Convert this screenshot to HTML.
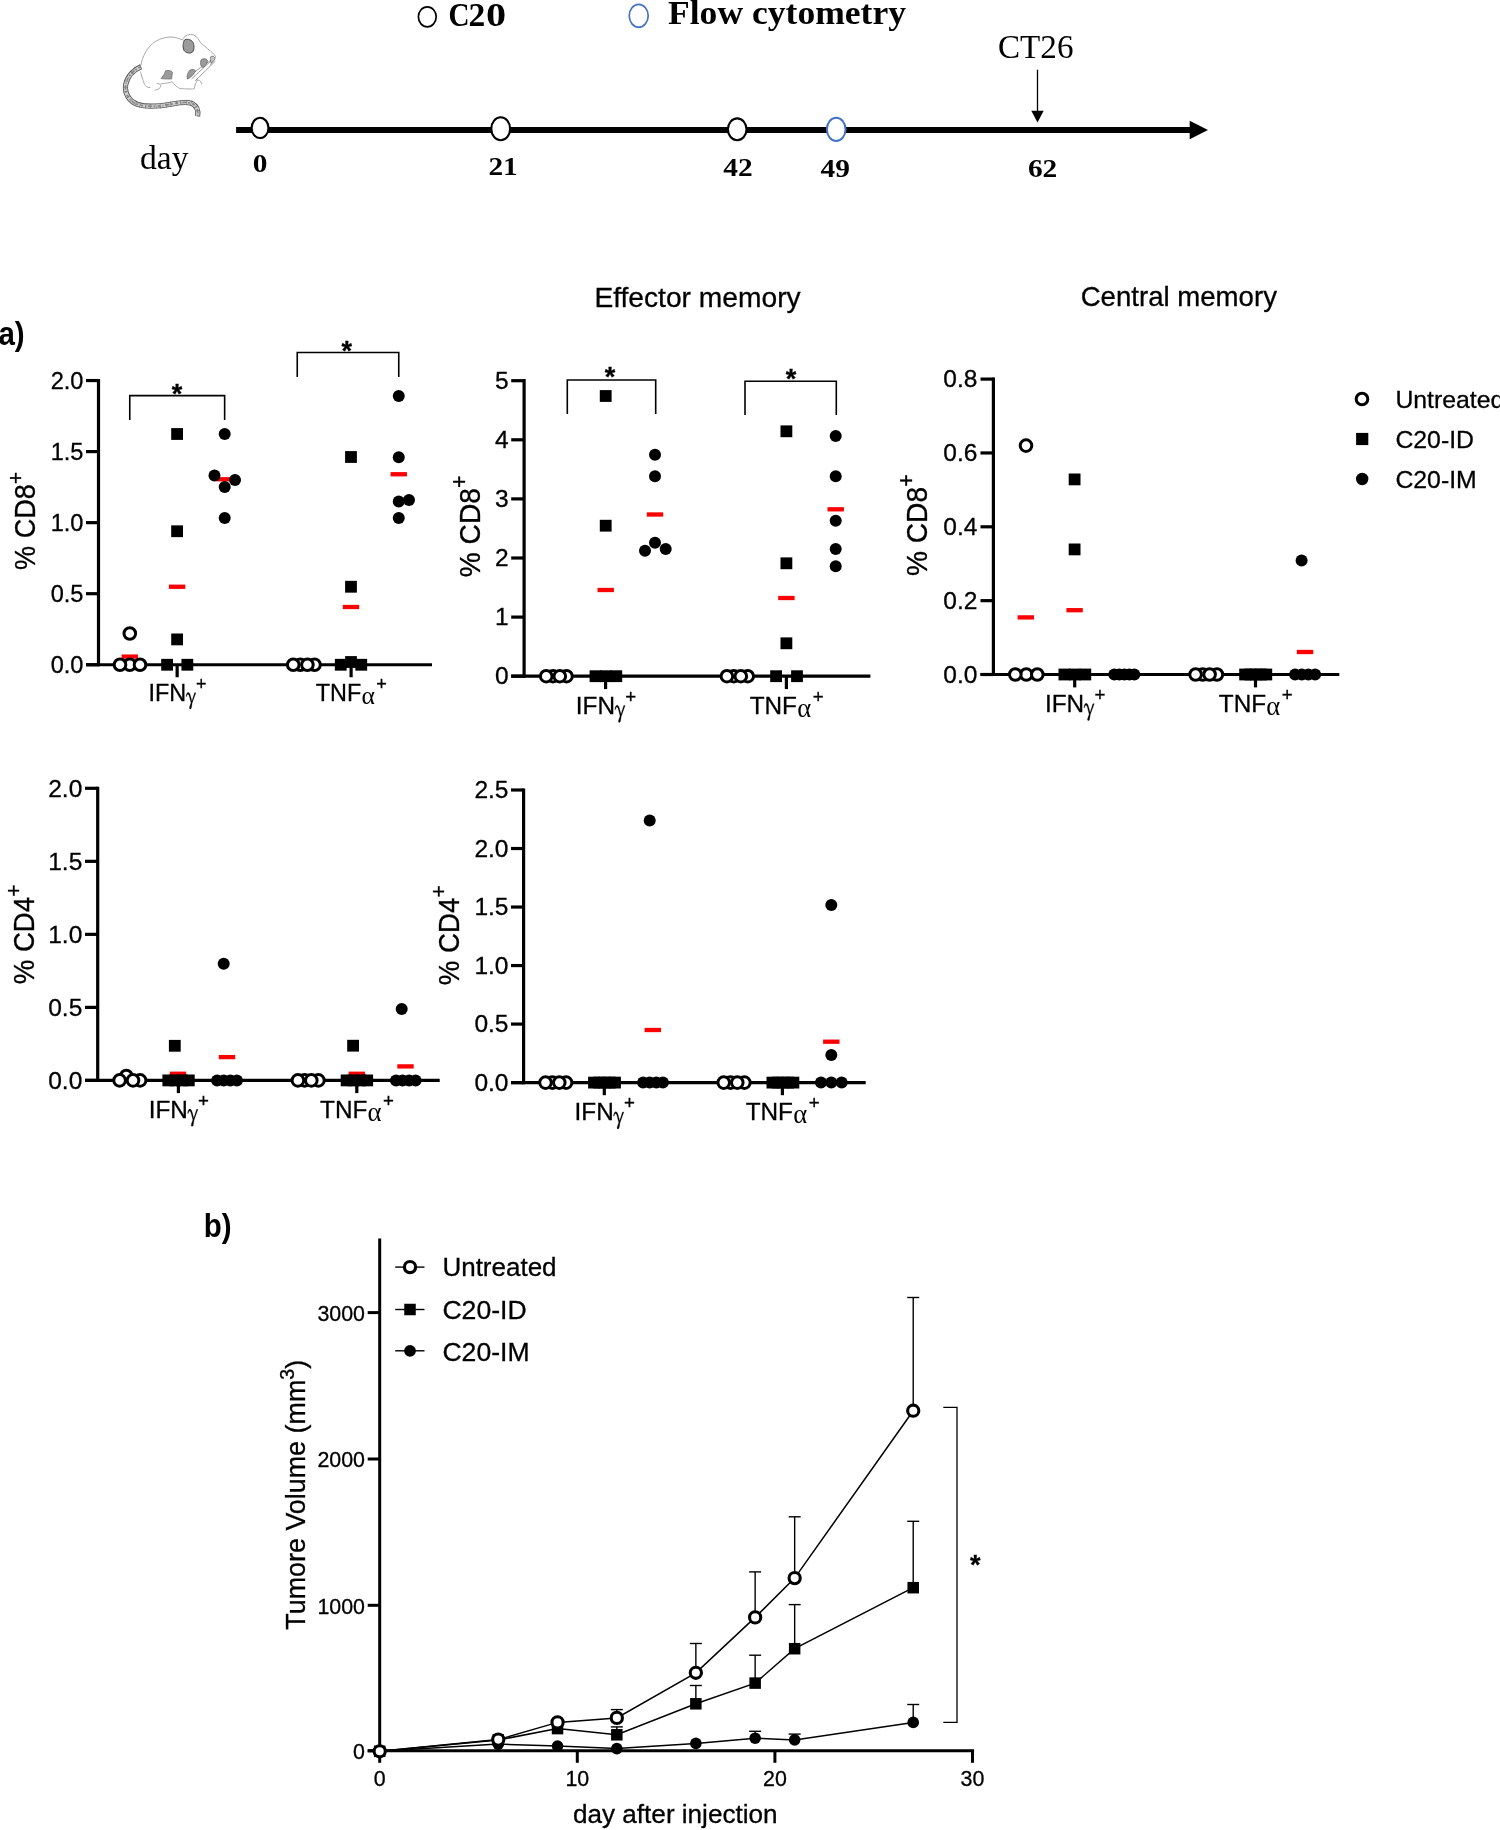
<!DOCTYPE html>
<html><head><meta charset="utf-8"><title>Figure</title>
<style>html,body{margin:0;padding:0;background:#fff}svg{display:block;will-change:transform}text{fill:#000}.b text{stroke:#000;stroke-width:0.3px}</style>
</head><body>
<svg width="1500" height="1830" viewBox="0 0 1500 1830">
<rect width="1500" height="1830" fill="#fff"/>
<g id="timeline">
<ellipse cx="427.3" cy="16.8" rx="8.9" ry="10" fill="#fff" stroke="#000" stroke-width="1.7"/>
<g transform="translate(448.4 26) scale(0.87 1)">
<text x="0" y="0" font-size="33.5" text-anchor="start" font-family='"Liberation Serif", serif' font-weight="bold" >C</text>
</g>
<text x="468.4" y="26" font-size="33.5" text-anchor="start" font-family='"Liberation Serif", serif' font-weight="bold" >2</text>
<g transform="translate(486 26) scale(1.2 1)">
<text x="0" y="0" font-size="33.5" text-anchor="start" font-family='"Liberation Serif", serif' font-weight="bold" >0</text>
</g>
<ellipse cx="638.7" cy="15.8" rx="9.5" ry="11.4" fill="#fff" stroke="#4472c4" stroke-width="1.7"/>
<text x="668" y="24.4" font-size="34" text-anchor="start" font-family='"Liberation Serif", serif' font-weight="bold" textLength="238" lengthAdjust="spacingAndGlyphs">Flow cytometry</text>
<line x1="236.1" y1="129.9" x2="1192" y2="129.9" stroke="#000" stroke-width="6" stroke-linecap="butt"/>
<path d="M1189.7 120.7 L1208 130 L1189.7 139.3 Z" fill="#000"/>
<ellipse cx="260.05" cy="127.9" rx="8.4" ry="10.15" fill="#fff" stroke="#000" stroke-width="2.1"/>
<ellipse cx="500.7" cy="128.8" rx="9.4" ry="11.5" fill="#fff" stroke="#000" stroke-width="2.1"/>
<ellipse cx="737.2" cy="129.3" rx="9.3" ry="10.9" fill="#fff" stroke="#000" stroke-width="2.1"/>
<ellipse cx="836.2" cy="129.4" rx="9.3" ry="11.6" fill="#fff" stroke="#4472c4" stroke-width="2"/>
<text x="140" y="168.6" font-size="34.5" text-anchor="start" font-family='"Liberation Serif", serif' font-weight="normal" textLength="48.5" lengthAdjust="spacingAndGlyphs">day</text>
<g transform="translate(260.1 171.6) scale(1.13 1)">
<text x="0" y="0" font-size="26" text-anchor="middle" font-family='"Liberation Serif", serif' font-weight="bold" >0</text>
</g>
<g transform="translate(503.1 175) scale(1.13 1)">
<text x="0" y="0" font-size="26" text-anchor="middle" font-family='"Liberation Serif", serif' font-weight="bold" >21</text>
</g>
<g transform="translate(737.9 176.4) scale(1.13 1)">
<text x="0" y="0" font-size="26" text-anchor="middle" font-family='"Liberation Serif", serif' font-weight="bold" >42</text>
</g>
<g transform="translate(835.2 177) scale(1.13 1)">
<text x="0" y="0" font-size="26" text-anchor="middle" font-family='"Liberation Serif", serif' font-weight="bold" >49</text>
</g>
<g transform="translate(1042.6 176.7) scale(1.13 1)">
<text x="0" y="0" font-size="26" text-anchor="middle" font-family='"Liberation Serif", serif' font-weight="bold" >62</text>
</g>
<text x="998" y="58.3" font-size="34" text-anchor="start" font-family='"Liberation Serif", serif' font-weight="normal" textLength="75.5" lengthAdjust="spacingAndGlyphs">CT26</text>
<line x1="1037.5" y1="69.7" x2="1037.5" y2="112" stroke="#000" stroke-width="1.3" stroke-linecap="butt"/>
<path d="M1031.3 110.8 L1043.7 110.8 L1037.5 122.5 Z" fill="#000"/>
<g id="mouse" fill="none" stroke-linecap="round" stroke-linejoin="round">
<path d="M141 65 C142 58 146 50 151 45 C156 40 163 37.500 170 37 C175 37 179 38.500 182.500 40 C183.500 37 186 35 190 34.500 C195 34 198 38 200 42 C203 45 206 47 209 50 C212 52 214 54 215.500 56.500 C214.500 59 213 61.500 210.500 64.500" stroke="#9c9c9c" stroke-width="0.9" stroke-dasharray="5 0.9 2.2 0.7"/>
<path d="M196.500 80 C199 79.500 201.500 81 201.500 84 M197.500 80.500 C195 83 195 86.500 194 89 C190 89 185 89 180 88.500 C176 87 174 84 172 81.500 M171 82.500 C167 83 163 83.500 160.500 84 M157 83.500 C159.500 83.500 161.500 85 160.500 87 C159.500 89 157 90 155 90 M150 87.500 C147 87.500 145 86 144 83 C143 80 141.500 76 140.500 72" stroke="#9c9c9c" stroke-width="0.9" stroke-dasharray="3.500 1 1.500 0.8"/>
<path d="M192 78.500 L213.500 58.500 M195.500 80.500 L215 61.500 M189 76 L211 60" stroke="#707070" stroke-width="0.7" stroke-dasharray="4 0.8"/>
<path d="M184.500 40 C187 38.500 191 39.500 192.800 42 C194.500 45 194.500 49.500 192.500 52 C190 54 186 53 184 50.500 C182.500 47 183 42.500 184.500 40 Z" fill="#9b9b9b" stroke="#3c3c3c" stroke-width="1" stroke-dasharray="1.300 0.9"/>
<path d="M201 60 C203 58 206.500 58.500 207.500 60.500 C207 63.500 205.500 66 203 67.500 C201 67 200 64 201 60 Z" fill="#9b9b9b" stroke="#555" stroke-width="0.7" stroke-dasharray="1.200 0.8"/>
<path d="M190 70 C192 69 195 69.500 195.500 71 C194 74 191 77.500 187.500 79 C186.500 77 187.500 73 190 70 Z" fill="#9b9b9b" stroke="#555" stroke-width="0.7" stroke-dasharray="1.200 0.8"/>
<path d="M165.500 71 C168 70 171.500 70.500 172.500 72.500 C172 75 172 77.500 171.500 79 C168 79 164 79 161 78.500 C163 76 164.500 74 165.500 71 Z" fill="#9b9b9b" stroke="#666" stroke-width="0.7" stroke-dasharray="1.200 0.8"/>
<path d="M210.500 57 C212 55.500 214 56 215 58 C214.500 60.500 212.500 62.500 211 63 C210.500 61 210.500 59 210.500 57 Z" fill="#c4c4c4" stroke="#555" stroke-width="0.7" stroke-dasharray="1.200 0.8"/>
<path d="M141 66.800 C134 69.500 127.500 76 125.600 85 C124.500 94 129.500 101.500 138 104.600 C148 107.600 160 106.200 172 104 C180 102.500 187 101.500 192 103.500 C197 106 198.500 111 197.600 116.300" stroke="#555" stroke-width="5.200" stroke-linecap="butt"/>
<path d="M141 66.800 C134 69.500 127.500 76 125.600 85 C124.500 94 129.500 101.500 138 104.600 C148 107.600 160 106.200 172 104 C180 102.500 187 101.500 192 103.500 C197 106 198.500 111 197.600 116.300" stroke="#d2d2d2" stroke-width="3.500" stroke-linecap="butt"/>
<path d="M141 66.800 C134 69.500 127.500 76 125.600 85 C124.500 94 129.500 101.500 138 104.600 C148 107.600 160 106.200 172 104 C180 102.500 187 101.500 192 103.500 C197 106 198.500 111 197.600 116.300" stroke="#8a8a8a" stroke-width="1.800" stroke-dasharray="3 1.800 1.200 1.500 4.500 1.200 2 2.200" stroke-linecap="butt"/>
<path d="M141 66.800 C134 69.500 127.500 76 125.600 85 C124.500 94 129.500 101.500 138 104.600 C148 107.600 160 106.200 172 104 C180 102.500 187 101.500 192 103.500 C197 106 198.500 111 197.600 116.300" stroke="#666" stroke-width="5.200" stroke-dasharray="0.700 5.300 0.600 3.700" stroke-linecap="butt" opacity="0.7"/>
</g>
</g>
<g transform="translate(-1.6 345.2) scale(0.9 1)">
<text x="0" y="0" font-size="32.8" text-anchor="start" font-family='"Liberation Sans", sans-serif' font-weight="bold" >a)</text>
</g>
<g transform="translate(203.7 1236.8) scale(0.9 1)">
<text x="0" y="0" font-size="32.8" text-anchor="start" font-family='"Liberation Sans", sans-serif' font-weight="bold" >b)</text>
</g>
<g id="c1" class="b">
<line x1="98.5" y1="378.95" x2="98.5" y2="666.35" stroke="#000" stroke-width="3.2" stroke-linecap="butt"/>
<line x1="86" y1="664.75" x2="432" y2="664.75" stroke="#000" stroke-width="3.2" stroke-linecap="butt"/>
<line x1="86" y1="380.55" x2="98.5" y2="380.55" stroke="#000" stroke-width="3.2" stroke-linecap="butt"/>
<text x="83.5" y="388.5" font-size="23.6" text-anchor="end" font-family='"Liberation Sans", sans-serif' font-weight="normal" >2.0</text>
<line x1="86" y1="451.6" x2="98.5" y2="451.6" stroke="#000" stroke-width="3.2" stroke-linecap="butt"/>
<text x="83.5" y="459.55" font-size="23.6" text-anchor="end" font-family='"Liberation Sans", sans-serif' font-weight="normal" >1.5</text>
<line x1="86" y1="522.65" x2="98.5" y2="522.65" stroke="#000" stroke-width="3.2" stroke-linecap="butt"/>
<text x="83.5" y="530.6" font-size="23.6" text-anchor="end" font-family='"Liberation Sans", sans-serif' font-weight="normal" >1.0</text>
<line x1="86" y1="593.7" x2="98.5" y2="593.7" stroke="#000" stroke-width="3.2" stroke-linecap="butt"/>
<text x="83.5" y="601.65" font-size="23.6" text-anchor="end" font-family='"Liberation Sans", sans-serif' font-weight="normal" >0.5</text>
<line x1="86" y1="664.75" x2="98.5" y2="664.75" stroke="#000" stroke-width="3.2" stroke-linecap="butt"/>
<text x="83.5" y="672.7" font-size="23.6" text-anchor="end" font-family='"Liberation Sans", sans-serif' font-weight="normal" >0.0</text>
<line x1="177.15" y1="664.75" x2="177.15" y2="677.25" stroke="#000" stroke-width="3.2" stroke-linecap="butt"/>
<line x1="351.1" y1="664.75" x2="351.1" y2="677.25" stroke="#000" stroke-width="3.2" stroke-linecap="butt"/>
<g transform="translate(35.1 527) scale(1.075 1) rotate(-90)">
<text x="-42.91" y="0" font-size="27.1" text-anchor="start" font-family='"Liberation Sans", sans-serif' font-weight="normal" >% CD8</text>
<text x="43.11" y="-11.65" font-size="20.6" text-anchor="start" font-family='"Liberation Sans", sans-serif' font-weight="normal" >+</text>
</g>
<text x="148.5" y="700.7" font-size="23.4" text-anchor="start" font-family='"Liberation Sans", sans-serif' font-weight="normal" >IFN</text>
<path transform="translate(186 701) scale(1)" d="M0,-4.4 C0.2,-7 1,-8.6 2.2,-8.6 C3.6,-8.6 4.2,-6.5 4.8,-4 L5.9,0.2 L8.6,-8.3 L9.9,-8.3 L6.1,2.2 C5.9,4 5.6,6 5.2,7.4 C4.8,8.2 3.4,8.2 3.4,7 C3.6,5.4 4.4,3.6 5,1.8 L3.6,-3.6 C3,-5.8 2.6,-6.8 1.9,-6.8 C1.2,-6.8 0.8,-5.6 0.6,-4.4 Z" fill="#000" stroke="#000" stroke-width="0.25"/>
<text x="201.3" y="690.1" font-size="18" text-anchor="middle" font-family='"Liberation Sans", sans-serif' font-weight="normal" >+</text>
<text x="315.8" y="700.7" font-size="23.4" text-anchor="start" font-family='"Liberation Sans", sans-serif' font-weight="normal" >TNF</text>
<text x="361.4" y="703.7" font-size="25.6" text-anchor="start" font-family='"Liberation Serif", serif' font-weight="normal" style="stroke-width:0">&#945;</text>
<text x="381.6" y="690.1" font-size="18" text-anchor="middle" font-family='"Liberation Sans", sans-serif' font-weight="normal" >+</text>
<rect x="121.6" y="654.45" width="16.4" height="4.3" fill="#fe0000"/>
<circle cx="129.8" cy="633.5" r="5.8" fill="#fff" stroke="#000" stroke-width="3"/>
<circle cx="129.8" cy="664.75" r="5.8" fill="#fff" stroke="#000" stroke-width="3"/>
<circle cx="120" cy="664.75" r="5.8" fill="#fff" stroke="#000" stroke-width="3"/>
<circle cx="140" cy="664.75" r="5.8" fill="#fff" stroke="#000" stroke-width="3"/>
<rect x="168.9" y="584.6" width="16.4" height="4.3" fill="#fe0000"/>
<rect x="171.2" y="428.1" width="11.8" height="11.8" fill="#000"/>
<rect x="171.2" y="525.35" width="11.8" height="11.8" fill="#000"/>
<rect x="171.2" y="633.5" width="11.8" height="11.8" fill="#000"/>
<rect x="161.2" y="658.85" width="11.8" height="11.8" fill="#000"/>
<rect x="181.45" y="658.85" width="11.8" height="11.8" fill="#000"/>
<rect x="216.5" y="477.1" width="16.4" height="4.3" fill="#fe0000"/>
<circle cx="224.7" cy="434" r="6" fill="#000"/>
<circle cx="214.5" cy="475.5" r="6" fill="#000"/>
<circle cx="235" cy="480" r="6" fill="#000"/>
<circle cx="224.7" cy="487" r="6" fill="#000"/>
<circle cx="224.7" cy="518" r="6" fill="#000"/>
<path d="M129.76 420V395.6H224.64V420" fill="none" stroke="#000" stroke-width="1.6"/>
<text x="177" y="402.92" font-size="27" text-anchor="middle" font-family='"Liberation Sans", sans-serif' font-weight="bold" >*</text>
<circle cx="314.5" cy="664.75" r="5.8" fill="#fff" stroke="#000" stroke-width="3"/>
<circle cx="300.3" cy="664.75" r="5.8" fill="#fff" stroke="#000" stroke-width="3"/>
<circle cx="307.4" cy="664.75" r="5.8" fill="#fff" stroke="#000" stroke-width="3"/>
<circle cx="293.25" cy="664.75" r="5.8" fill="#fff" stroke="#000" stroke-width="3"/>
<rect x="342.8" y="604.85" width="16.4" height="4.3" fill="#fe0000"/>
<rect x="345.1" y="451.1" width="11.8" height="11.8" fill="#000"/>
<rect x="345.1" y="580.85" width="11.8" height="11.8" fill="#000"/>
<rect x="334.85" y="658.85" width="11.8" height="11.8" fill="#000"/>
<rect x="355.35" y="658.85" width="11.8" height="11.8" fill="#000"/>
<rect x="345.1" y="656.1" width="11.8" height="11.8" fill="#000"/>
<rect x="390.55" y="472.1" width="16.4" height="4.3" fill="#fe0000"/>
<circle cx="398.75" cy="396" r="6" fill="#000"/>
<circle cx="398.75" cy="457.25" r="6" fill="#000"/>
<circle cx="398.75" cy="501.5" r="6" fill="#000"/>
<circle cx="409" cy="500" r="6" fill="#000"/>
<circle cx="398.75" cy="518" r="6" fill="#000"/>
<path d="M297.25 377V352.5H398.75V377" fill="none" stroke="#000" stroke-width="1.6"/>
<text x="346.75" y="359.72" font-size="27" text-anchor="middle" font-family='"Liberation Sans", sans-serif' font-weight="bold" >*</text>
</g>
<g id="c2" class="b">
<line x1="524.1" y1="379.1" x2="524.1" y2="677.8" stroke="#000" stroke-width="3.2" stroke-linecap="butt"/>
<line x1="511.2" y1="676.2" x2="870.4" y2="676.2" stroke="#000" stroke-width="3.2" stroke-linecap="butt"/>
<line x1="511.2" y1="380.7" x2="524.1" y2="380.7" stroke="#000" stroke-width="3.2" stroke-linecap="butt"/>
<text x="508.7" y="388.99" font-size="24.54" text-anchor="end" font-family='"Liberation Sans", sans-serif' font-weight="normal" >5</text>
<line x1="511.2" y1="439.8" x2="524.1" y2="439.8" stroke="#000" stroke-width="3.2" stroke-linecap="butt"/>
<text x="508.7" y="448.09" font-size="24.54" text-anchor="end" font-family='"Liberation Sans", sans-serif' font-weight="normal" >4</text>
<line x1="511.2" y1="498.9" x2="524.1" y2="498.9" stroke="#000" stroke-width="3.2" stroke-linecap="butt"/>
<text x="508.7" y="507.19" font-size="24.54" text-anchor="end" font-family='"Liberation Sans", sans-serif' font-weight="normal" >3</text>
<line x1="511.2" y1="558" x2="524.1" y2="558" stroke="#000" stroke-width="3.2" stroke-linecap="butt"/>
<text x="508.7" y="566.29" font-size="24.54" text-anchor="end" font-family='"Liberation Sans", sans-serif' font-weight="normal" >2</text>
<line x1="511.2" y1="617.1" x2="524.1" y2="617.1" stroke="#000" stroke-width="3.2" stroke-linecap="butt"/>
<text x="508.7" y="625.39" font-size="24.54" text-anchor="end" font-family='"Liberation Sans", sans-serif' font-weight="normal" >1</text>
<line x1="511.2" y1="676.2" x2="524.1" y2="676.2" stroke="#000" stroke-width="3.2" stroke-linecap="butt"/>
<text x="508.7" y="684.49" font-size="24.54" text-anchor="end" font-family='"Liberation Sans", sans-serif' font-weight="normal" >0</text>
<line x1="605.6" y1="676.2" x2="605.6" y2="689.1" stroke="#000" stroke-width="3.2" stroke-linecap="butt"/>
<line x1="786.4" y1="676.2" x2="786.4" y2="689.1" stroke="#000" stroke-width="3.2" stroke-linecap="butt"/>
<g transform="translate(480.3 532.7) scale(1.075 1) rotate(-90)">
<text x="-44.63" y="0" font-size="28.18" text-anchor="start" font-family='"Liberation Sans", sans-serif' font-weight="normal" >% CD8</text>
<text x="44.83" y="-12.12" font-size="21.42" text-anchor="start" font-family='"Liberation Sans", sans-serif' font-weight="normal" >+</text>
</g>
<text x="575.86" y="713.8" font-size="24.34" text-anchor="start" font-family='"Liberation Sans", sans-serif' font-weight="normal" >IFN</text>
<path transform="translate(614.86 714.1) scale(1.04)" d="M0,-4.4 C0.2,-7 1,-8.6 2.2,-8.6 C3.6,-8.6 4.2,-6.5 4.8,-4 L5.9,0.2 L8.6,-8.3 L9.9,-8.3 L6.1,2.2 C5.9,4 5.6,6 5.2,7.4 C4.8,8.2 3.4,8.2 3.4,7 C3.6,5.4 4.4,3.6 5,1.8 L3.6,-3.6 C3,-5.8 2.6,-6.8 1.9,-6.8 C1.2,-6.8 0.8,-5.6 0.6,-4.4 Z" fill="#000" stroke="#000" stroke-width="0.25"/>
<text x="630.77" y="702.78" font-size="18.72" text-anchor="middle" font-family='"Liberation Sans", sans-serif' font-weight="normal" >+</text>
<text x="749.69" y="713.8" font-size="24.34" text-anchor="start" font-family='"Liberation Sans", sans-serif' font-weight="normal" >TNF</text>
<text x="797.14" y="716.92" font-size="26.62" text-anchor="start" font-family='"Liberation Serif", serif' font-weight="normal" style="stroke-width:0">&#945;</text>
<text x="818.12" y="702.78" font-size="18.72" text-anchor="middle" font-family='"Liberation Sans", sans-serif' font-weight="normal" >+</text>
<text x="697.5" y="307.4" font-size="28.2" text-anchor="middle" font-family='"Liberation Sans", sans-serif' font-weight="normal" >Effector memory</text>
<circle cx="566.5" cy="676.2" r="5.8" fill="#fff" stroke="#000" stroke-width="3"/>
<circle cx="553" cy="676.2" r="5.8" fill="#fff" stroke="#000" stroke-width="3"/>
<circle cx="559.8" cy="676.2" r="5.8" fill="#fff" stroke="#000" stroke-width="3"/>
<circle cx="546.2" cy="676.2" r="5.8" fill="#fff" stroke="#000" stroke-width="3"/>
<rect x="597.5" y="587.85" width="16.4" height="4.3" fill="#fe0000"/>
<rect x="599.8" y="390.1" width="11.8" height="11.8" fill="#000"/>
<rect x="599.8" y="519.8" width="11.8" height="11.8" fill="#000"/>
<rect x="589.6" y="670.3" width="11.8" height="11.8" fill="#000"/>
<rect x="600" y="670.3" width="11.8" height="11.8" fill="#000"/>
<rect x="610.4" y="670.3" width="11.8" height="11.8" fill="#000"/>
<rect x="646.8" y="512.35" width="16.4" height="4.3" fill="#fe0000"/>
<circle cx="655" cy="454.7" r="6" fill="#000"/>
<circle cx="655" cy="476.3" r="6" fill="#000"/>
<circle cx="655" cy="542.7" r="6" fill="#000"/>
<circle cx="645" cy="550.7" r="6" fill="#000"/>
<circle cx="665.7" cy="549" r="6" fill="#000"/>
<path d="M567.3 414V380H655.7V414" fill="none" stroke="#000" stroke-width="1.6"/>
<text x="610" y="385.72" font-size="27" text-anchor="middle" font-family='"Liberation Sans", sans-serif' font-weight="bold" >*</text>
<circle cx="747.7" cy="676.2" r="5.8" fill="#fff" stroke="#000" stroke-width="3"/>
<circle cx="733.8" cy="676.2" r="5.8" fill="#fff" stroke="#000" stroke-width="3"/>
<circle cx="740.8" cy="676.2" r="5.8" fill="#fff" stroke="#000" stroke-width="3"/>
<circle cx="726.9" cy="676.2" r="5.8" fill="#fff" stroke="#000" stroke-width="3"/>
<rect x="778.2" y="595.85" width="16.4" height="4.3" fill="#fe0000"/>
<rect x="780.5" y="425.4" width="11.8" height="11.8" fill="#000"/>
<rect x="780.5" y="557.4" width="11.8" height="11.8" fill="#000"/>
<rect x="780.5" y="637.4" width="11.8" height="11.8" fill="#000"/>
<rect x="770.2" y="670.3" width="11.8" height="11.8" fill="#000"/>
<rect x="791.1" y="670.3" width="11.8" height="11.8" fill="#000"/>
<rect x="827.5" y="507.15" width="16.4" height="4.3" fill="#fe0000"/>
<circle cx="835.7" cy="436" r="6" fill="#000"/>
<circle cx="835.7" cy="476.3" r="6" fill="#000"/>
<circle cx="835.7" cy="520.7" r="6" fill="#000"/>
<circle cx="835.7" cy="549" r="6" fill="#000"/>
<circle cx="835.7" cy="566.3" r="6" fill="#000"/>
<path d="M745 415V381.3H836.3V415" fill="none" stroke="#000" stroke-width="1.6"/>
<text x="791" y="387.72" font-size="27" text-anchor="middle" font-family='"Liberation Sans", sans-serif' font-weight="bold" >*</text>
</g>
<g id="c3" class="b">
<line x1="993.4" y1="377.5" x2="993.4" y2="676.1" stroke="#000" stroke-width="3.2" stroke-linecap="butt"/>
<line x1="980.5" y1="674.5" x2="1339.3" y2="674.5" stroke="#000" stroke-width="3.2" stroke-linecap="butt"/>
<line x1="980.5" y1="379.1" x2="993.4" y2="379.1" stroke="#000" stroke-width="3.2" stroke-linecap="butt"/>
<text x="977.4" y="387.39" font-size="24.54" text-anchor="end" font-family='"Liberation Sans", sans-serif' font-weight="normal" >0.8</text>
<line x1="980.5" y1="452.95" x2="993.4" y2="452.95" stroke="#000" stroke-width="3.2" stroke-linecap="butt"/>
<text x="977.4" y="461.24" font-size="24.54" text-anchor="end" font-family='"Liberation Sans", sans-serif' font-weight="normal" >0.6</text>
<line x1="980.5" y1="526.8" x2="993.4" y2="526.8" stroke="#000" stroke-width="3.2" stroke-linecap="butt"/>
<text x="977.4" y="535.09" font-size="24.54" text-anchor="end" font-family='"Liberation Sans", sans-serif' font-weight="normal" >0.4</text>
<line x1="980.5" y1="600.65" x2="993.4" y2="600.65" stroke="#000" stroke-width="3.2" stroke-linecap="butt"/>
<text x="977.4" y="608.94" font-size="24.54" text-anchor="end" font-family='"Liberation Sans", sans-serif' font-weight="normal" >0.2</text>
<line x1="980.5" y1="674.5" x2="993.4" y2="674.5" stroke="#000" stroke-width="3.2" stroke-linecap="butt"/>
<text x="977.4" y="682.79" font-size="24.54" text-anchor="end" font-family='"Liberation Sans", sans-serif' font-weight="normal" >0.0</text>
<line x1="1074.7" y1="674.5" x2="1074.7" y2="687.4" stroke="#000" stroke-width="3.2" stroke-linecap="butt"/>
<line x1="1255.5" y1="674.5" x2="1255.5" y2="687.4" stroke="#000" stroke-width="3.2" stroke-linecap="butt"/>
<g transform="translate(927.3 531.5) scale(1.075 1) rotate(-90)">
<text x="-44.63" y="0" font-size="28.18" text-anchor="start" font-family='"Liberation Sans", sans-serif' font-weight="normal" >% CD8</text>
<text x="44.83" y="-12.12" font-size="21.42" text-anchor="start" font-family='"Liberation Sans", sans-serif' font-weight="normal" >+</text>
</g>
<text x="1044.96" y="712" font-size="24.34" text-anchor="start" font-family='"Liberation Sans", sans-serif' font-weight="normal" >IFN</text>
<path transform="translate(1083.96 712.3) scale(1.04)" d="M0,-4.4 C0.2,-7 1,-8.6 2.2,-8.6 C3.6,-8.6 4.2,-6.5 4.8,-4 L5.9,0.2 L8.6,-8.3 L9.9,-8.3 L6.1,2.2 C5.9,4 5.6,6 5.2,7.4 C4.8,8.2 3.4,8.2 3.4,7 C3.6,5.4 4.4,3.6 5,1.8 L3.6,-3.6 C3,-5.8 2.6,-6.8 1.9,-6.8 C1.2,-6.8 0.8,-5.6 0.6,-4.4 Z" fill="#000" stroke="#000" stroke-width="0.25"/>
<text x="1099.87" y="700.98" font-size="18.72" text-anchor="middle" font-family='"Liberation Sans", sans-serif' font-weight="normal" >+</text>
<text x="1218.79" y="712" font-size="24.34" text-anchor="start" font-family='"Liberation Sans", sans-serif' font-weight="normal" >TNF</text>
<text x="1266.24" y="715.12" font-size="26.62" text-anchor="start" font-family='"Liberation Serif", serif' font-weight="normal" style="stroke-width:0">&#945;</text>
<text x="1287.22" y="700.98" font-size="18.72" text-anchor="middle" font-family='"Liberation Sans", sans-serif' font-weight="normal" >+</text>
<text x="1178.8" y="305.7" font-size="27.6" text-anchor="middle" font-family='"Liberation Sans", sans-serif' font-weight="normal" >Central memory</text>
<rect x="1017.6" y="615.25" width="16.4" height="4.3" fill="#fe0000"/>
<circle cx="1026" cy="445.6" r="5.8" fill="#fff" stroke="#000" stroke-width="3"/>
<circle cx="1026.3" cy="674.5" r="5.8" fill="#fff" stroke="#000" stroke-width="3"/>
<circle cx="1015.3" cy="674.5" r="5.8" fill="#fff" stroke="#000" stroke-width="3"/>
<circle cx="1037.3" cy="674.5" r="5.8" fill="#fff" stroke="#000" stroke-width="3"/>
<rect x="1066.4" y="608.05" width="16.4" height="4.3" fill="#fe0000"/>
<rect x="1068.7" y="473.5" width="11.8" height="11.8" fill="#000"/>
<rect x="1068.7" y="543.5" width="11.8" height="11.8" fill="#000"/>
<rect x="1058.5" y="668.6" width="11.8" height="11.8" fill="#000"/>
<rect x="1068.95" y="668.6" width="11.8" height="11.8" fill="#000"/>
<rect x="1079.4" y="668.6" width="11.8" height="11.8" fill="#000"/>
<circle cx="1114.3" cy="674.5" r="6" fill="#000"/>
<circle cx="1119.3" cy="674.5" r="6" fill="#000"/>
<circle cx="1124.3" cy="674.5" r="6" fill="#000"/>
<circle cx="1129.3" cy="674.5" r="6" fill="#000"/>
<circle cx="1134.3" cy="674.5" r="6" fill="#000"/>
<circle cx="1216.9" cy="674.5" r="5.8" fill="#fff" stroke="#000" stroke-width="3"/>
<circle cx="1202.7" cy="674.5" r="5.8" fill="#fff" stroke="#000" stroke-width="3"/>
<circle cx="1209.6" cy="674.5" r="5.8" fill="#fff" stroke="#000" stroke-width="3"/>
<circle cx="1195.6" cy="674.5" r="5.8" fill="#fff" stroke="#000" stroke-width="3"/>
<rect x="1239.2" y="668.6" width="11.8" height="11.8" fill="#000"/>
<rect x="1244.5" y="668.6" width="11.8" height="11.8" fill="#000"/>
<rect x="1249.8" y="668.6" width="11.8" height="11.8" fill="#000"/>
<rect x="1255.1" y="668.6" width="11.8" height="11.8" fill="#000"/>
<rect x="1260.4" y="668.6" width="11.8" height="11.8" fill="#000"/>
<rect x="1296.8" y="649.85" width="16.4" height="4.3" fill="#fe0000"/>
<circle cx="1301.6" cy="560.4" r="6" fill="#000"/>
<circle cx="1295.1" cy="674.5" r="6" fill="#000"/>
<circle cx="1301.8" cy="674.5" r="6" fill="#000"/>
<circle cx="1308.4" cy="674.5" r="6" fill="#000"/>
<circle cx="1315.1" cy="674.5" r="6" fill="#000"/>
<circle cx="1362" cy="399" r="5.8" fill="#fff" stroke="#000" stroke-width="3"/>
<rect x="1356.1" y="432.9" width="12.2" height="12.2" fill="#000"/>
<circle cx="1362.2" cy="479" r="6.2" fill="#000"/>
<text x="1395.4" y="408" font-size="24.8" text-anchor="start" font-family='"Liberation Sans", sans-serif' font-weight="normal" >Untreated</text>
<text x="1395.4" y="448" font-size="24.8" text-anchor="start" font-family='"Liberation Sans", sans-serif' font-weight="normal" >C20-ID</text>
<text x="1395.4" y="488" font-size="24.8" text-anchor="start" font-family='"Liberation Sans", sans-serif' font-weight="normal" >C20-IM</text>
</g>
<g id="c4" class="b">
<line x1="97.7" y1="786.7" x2="97.7" y2="1082" stroke="#000" stroke-width="3.2" stroke-linecap="butt"/>
<line x1="85" y1="1080.4" x2="439.7" y2="1080.4" stroke="#000" stroke-width="3.2" stroke-linecap="butt"/>
<line x1="85" y1="788.3" x2="97.7" y2="788.3" stroke="#000" stroke-width="3.2" stroke-linecap="butt"/>
<text x="82.3" y="796.59" font-size="24.54" text-anchor="end" font-family='"Liberation Sans", sans-serif' font-weight="normal" >2.0</text>
<line x1="85" y1="861.33" x2="97.7" y2="861.33" stroke="#000" stroke-width="3.2" stroke-linecap="butt"/>
<text x="82.3" y="869.61" font-size="24.54" text-anchor="end" font-family='"Liberation Sans", sans-serif' font-weight="normal" >1.5</text>
<line x1="85" y1="934.35" x2="97.7" y2="934.35" stroke="#000" stroke-width="3.2" stroke-linecap="butt"/>
<text x="82.3" y="942.64" font-size="24.54" text-anchor="end" font-family='"Liberation Sans", sans-serif' font-weight="normal" >1.0</text>
<line x1="85" y1="1007.38" x2="97.7" y2="1007.38" stroke="#000" stroke-width="3.2" stroke-linecap="butt"/>
<text x="82.3" y="1015.66" font-size="24.54" text-anchor="end" font-family='"Liberation Sans", sans-serif' font-weight="normal" >0.5</text>
<line x1="85" y1="1080.4" x2="97.7" y2="1080.4" stroke="#000" stroke-width="3.2" stroke-linecap="butt"/>
<text x="82.3" y="1088.69" font-size="24.54" text-anchor="end" font-family='"Liberation Sans", sans-serif' font-weight="normal" >0.0</text>
<line x1="178.4" y1="1080.4" x2="178.4" y2="1093.1" stroke="#000" stroke-width="3.2" stroke-linecap="butt"/>
<line x1="356.8" y1="1080.4" x2="356.8" y2="1093.1" stroke="#000" stroke-width="3.2" stroke-linecap="butt"/>
<g transform="translate(33.8 940.6) scale(1.075 1) rotate(-90)">
<text x="-43.77" y="0" font-size="27.64" text-anchor="start" font-family='"Liberation Sans", sans-serif' font-weight="normal" >% CD4</text>
<text x="43.97" y="-11.89" font-size="21.01" text-anchor="start" font-family='"Liberation Sans", sans-serif' font-weight="normal" >+</text>
</g>
<text x="148.66" y="1117.7" font-size="24.34" text-anchor="start" font-family='"Liberation Sans", sans-serif' font-weight="normal" >IFN</text>
<path transform="translate(187.66 1118) scale(1.04)" d="M0,-4.4 C0.2,-7 1,-8.6 2.2,-8.6 C3.6,-8.6 4.2,-6.5 4.8,-4 L5.9,0.2 L8.6,-8.3 L9.9,-8.3 L6.1,2.2 C5.9,4 5.6,6 5.2,7.4 C4.8,8.2 3.4,8.2 3.4,7 C3.6,5.4 4.4,3.6 5,1.8 L3.6,-3.6 C3,-5.8 2.6,-6.8 1.9,-6.8 C1.2,-6.8 0.8,-5.6 0.6,-4.4 Z" fill="#000" stroke="#000" stroke-width="0.25"/>
<text x="203.57" y="1106.68" font-size="18.72" text-anchor="middle" font-family='"Liberation Sans", sans-serif' font-weight="normal" >+</text>
<text x="320.09" y="1117.7" font-size="24.34" text-anchor="start" font-family='"Liberation Sans", sans-serif' font-weight="normal" >TNF</text>
<text x="367.54" y="1120.82" font-size="26.62" text-anchor="start" font-family='"Liberation Serif", serif' font-weight="normal" style="stroke-width:0">&#945;</text>
<text x="388.52" y="1106.68" font-size="18.72" text-anchor="middle" font-family='"Liberation Sans", sans-serif' font-weight="normal" >+</text>
<circle cx="140.1" cy="1080.4" r="5.8" fill="#fff" stroke="#000" stroke-width="3"/>
<circle cx="126.3" cy="1076" r="5.8" fill="#fff" stroke="#000" stroke-width="3"/>
<circle cx="133" cy="1080.4" r="5.8" fill="#fff" stroke="#000" stroke-width="3"/>
<circle cx="119.6" cy="1080.4" r="5.8" fill="#fff" stroke="#000" stroke-width="3"/>
<rect x="169.8" y="1071.6" width="16.4" height="4.3" fill="#fe0000"/>
<rect x="168.9" y="1039.9" width="11.8" height="11.8" fill="#000"/>
<rect x="162.4" y="1074.5" width="11.8" height="11.8" fill="#000"/>
<rect x="169.2" y="1074.5" width="11.8" height="11.8" fill="#000"/>
<rect x="176.1" y="1074.5" width="11.8" height="11.8" fill="#000"/>
<rect x="182.9" y="1074.5" width="11.8" height="11.8" fill="#000"/>
<rect x="218.8" y="1054.95" width="16.4" height="4.3" fill="#fe0000"/>
<circle cx="223.7" cy="963.7" r="6" fill="#000"/>
<circle cx="217.1" cy="1080.4" r="6" fill="#000"/>
<circle cx="223.7" cy="1080.4" r="6" fill="#000"/>
<circle cx="230.3" cy="1080.4" r="6" fill="#000"/>
<circle cx="236.9" cy="1080.4" r="6" fill="#000"/>
<circle cx="318.4" cy="1080.4" r="5.8" fill="#fff" stroke="#000" stroke-width="3"/>
<circle cx="304.6" cy="1080.4" r="5.8" fill="#fff" stroke="#000" stroke-width="3"/>
<circle cx="311.3" cy="1080.4" r="5.8" fill="#fff" stroke="#000" stroke-width="3"/>
<circle cx="297.9" cy="1080.4" r="5.8" fill="#fff" stroke="#000" stroke-width="3"/>
<rect x="348.6" y="1071.6" width="16.4" height="4.3" fill="#fe0000"/>
<rect x="347.2" y="1039.8" width="11.8" height="11.8" fill="#000"/>
<rect x="340.7" y="1074.5" width="11.8" height="11.8" fill="#000"/>
<rect x="347.5" y="1074.5" width="11.8" height="11.8" fill="#000"/>
<rect x="354.4" y="1074.5" width="11.8" height="11.8" fill="#000"/>
<rect x="361.3" y="1074.5" width="11.8" height="11.8" fill="#000"/>
<rect x="397.3" y="1064.25" width="16.4" height="4.3" fill="#fe0000"/>
<circle cx="401.7" cy="1009" r="6" fill="#000"/>
<circle cx="396" cy="1080.4" r="6" fill="#000"/>
<circle cx="402.5" cy="1080.4" r="6" fill="#000"/>
<circle cx="409.1" cy="1080.4" r="6" fill="#000"/>
<circle cx="415.6" cy="1080.4" r="6" fill="#000"/>
</g>
<g id="c5" class="b">
<line x1="523.6" y1="788.4" x2="523.6" y2="1084.2" stroke="#000" stroke-width="3.2" stroke-linecap="butt"/>
<line x1="511" y1="1082.6" x2="865.7" y2="1082.6" stroke="#000" stroke-width="3.2" stroke-linecap="butt"/>
<line x1="511" y1="790" x2="523.6" y2="790" stroke="#000" stroke-width="3.2" stroke-linecap="butt"/>
<text x="508.5" y="798.29" font-size="24.54" text-anchor="end" font-family='"Liberation Sans", sans-serif' font-weight="normal" >2.5</text>
<line x1="511" y1="848.52" x2="523.6" y2="848.52" stroke="#000" stroke-width="3.2" stroke-linecap="butt"/>
<text x="508.5" y="856.81" font-size="24.54" text-anchor="end" font-family='"Liberation Sans", sans-serif' font-weight="normal" >2.0</text>
<line x1="511" y1="907.04" x2="523.6" y2="907.04" stroke="#000" stroke-width="3.2" stroke-linecap="butt"/>
<text x="508.5" y="915.33" font-size="24.54" text-anchor="end" font-family='"Liberation Sans", sans-serif' font-weight="normal" >1.5</text>
<line x1="511" y1="965.56" x2="523.6" y2="965.56" stroke="#000" stroke-width="3.2" stroke-linecap="butt"/>
<text x="508.5" y="973.85" font-size="24.54" text-anchor="end" font-family='"Liberation Sans", sans-serif' font-weight="normal" >1.0</text>
<line x1="511" y1="1024.08" x2="523.6" y2="1024.08" stroke="#000" stroke-width="3.2" stroke-linecap="butt"/>
<text x="508.5" y="1032.37" font-size="24.54" text-anchor="end" font-family='"Liberation Sans", sans-serif' font-weight="normal" >0.5</text>
<line x1="511" y1="1082.6" x2="523.6" y2="1082.6" stroke="#000" stroke-width="3.2" stroke-linecap="butt"/>
<text x="508.5" y="1090.89" font-size="24.54" text-anchor="end" font-family='"Liberation Sans", sans-serif' font-weight="normal" >0.0</text>
<line x1="604.3" y1="1082.6" x2="604.3" y2="1095.2" stroke="#000" stroke-width="3.2" stroke-linecap="butt"/>
<line x1="782.4" y1="1082.6" x2="782.4" y2="1095.2" stroke="#000" stroke-width="3.2" stroke-linecap="butt"/>
<g transform="translate(458.7 941.5) scale(1.075 1) rotate(-90)">
<text x="-43.77" y="0" font-size="27.64" text-anchor="start" font-family='"Liberation Sans", sans-serif' font-weight="normal" >% CD4</text>
<text x="43.97" y="-11.89" font-size="21.01" text-anchor="start" font-family='"Liberation Sans", sans-serif' font-weight="normal" >+</text>
</g>
<text x="574.56" y="1120.3" font-size="24.34" text-anchor="start" font-family='"Liberation Sans", sans-serif' font-weight="normal" >IFN</text>
<path transform="translate(613.56 1120.6) scale(1.04)" d="M0,-4.4 C0.2,-7 1,-8.6 2.2,-8.6 C3.6,-8.6 4.2,-6.5 4.8,-4 L5.9,0.2 L8.6,-8.3 L9.9,-8.3 L6.1,2.2 C5.9,4 5.6,6 5.2,7.4 C4.8,8.2 3.4,8.2 3.4,7 C3.6,5.4 4.4,3.6 5,1.8 L3.6,-3.6 C3,-5.8 2.6,-6.8 1.9,-6.8 C1.2,-6.8 0.8,-5.6 0.6,-4.4 Z" fill="#000" stroke="#000" stroke-width="0.25"/>
<text x="629.47" y="1109.28" font-size="18.72" text-anchor="middle" font-family='"Liberation Sans", sans-serif' font-weight="normal" >+</text>
<text x="745.69" y="1120.3" font-size="24.34" text-anchor="start" font-family='"Liberation Sans", sans-serif' font-weight="normal" >TNF</text>
<text x="793.14" y="1123.42" font-size="26.62" text-anchor="start" font-family='"Liberation Serif", serif' font-weight="normal" style="stroke-width:0">&#945;</text>
<text x="814.12" y="1109.28" font-size="18.72" text-anchor="middle" font-family='"Liberation Sans", sans-serif' font-weight="normal" >+</text>
<circle cx="566.1" cy="1082.6" r="5.8" fill="#fff" stroke="#000" stroke-width="3"/>
<circle cx="552.4" cy="1082.6" r="5.8" fill="#fff" stroke="#000" stroke-width="3"/>
<circle cx="559.3" cy="1082.6" r="5.8" fill="#fff" stroke="#000" stroke-width="3"/>
<circle cx="545.5" cy="1082.6" r="5.8" fill="#fff" stroke="#000" stroke-width="3"/>
<rect x="588.1" y="1076.7" width="11.8" height="11.8" fill="#000"/>
<rect x="593.3" y="1076.7" width="11.8" height="11.8" fill="#000"/>
<rect x="598.6" y="1076.7" width="11.8" height="11.8" fill="#000"/>
<rect x="603.8" y="1076.7" width="11.8" height="11.8" fill="#000"/>
<rect x="609.1" y="1076.7" width="11.8" height="11.8" fill="#000"/>
<rect x="644.6" y="1027.85" width="16.4" height="4.3" fill="#fe0000"/>
<circle cx="649.7" cy="820.5" r="6" fill="#000"/>
<circle cx="643.1" cy="1082.6" r="6" fill="#000"/>
<circle cx="649.7" cy="1082.6" r="6" fill="#000"/>
<circle cx="656.3" cy="1082.6" r="6" fill="#000"/>
<circle cx="662.9" cy="1082.6" r="6" fill="#000"/>
<circle cx="744.4" cy="1082.6" r="5.8" fill="#fff" stroke="#000" stroke-width="3"/>
<circle cx="730.5" cy="1082.6" r="5.8" fill="#fff" stroke="#000" stroke-width="3"/>
<circle cx="737.3" cy="1082.6" r="5.8" fill="#fff" stroke="#000" stroke-width="3"/>
<circle cx="723.7" cy="1082.6" r="5.8" fill="#fff" stroke="#000" stroke-width="3"/>
<rect x="766.5" y="1076.7" width="11.8" height="11.8" fill="#000"/>
<rect x="771.7" y="1076.7" width="11.8" height="11.8" fill="#000"/>
<rect x="777" y="1076.7" width="11.8" height="11.8" fill="#000"/>
<rect x="782.2" y="1076.7" width="11.8" height="11.8" fill="#000"/>
<rect x="787.5" y="1076.7" width="11.8" height="11.8" fill="#000"/>
<rect x="823.1" y="1039.55" width="16.4" height="4.3" fill="#fe0000"/>
<circle cx="831.3" cy="905" r="6" fill="#000"/>
<circle cx="831.3" cy="1054.9" r="6" fill="#000"/>
<circle cx="821" cy="1082.6" r="6" fill="#000"/>
<circle cx="831.3" cy="1082.6" r="6" fill="#000"/>
<circle cx="841.7" cy="1082.6" r="6" fill="#000"/>
</g>
<g id="cb" class="b">
<line x1="379.7" y1="1238.5" x2="379.7" y2="1752.3" stroke="#000" stroke-width="3" stroke-linecap="butt"/>
<line x1="367.7" y1="1750.8" x2="974.1" y2="1750.8" stroke="#000" stroke-width="3" stroke-linecap="butt"/>
<line x1="367.7" y1="1312.6" x2="379.7" y2="1312.6" stroke="#000" stroke-width="3" stroke-linecap="butt"/>
<text x="365" y="1320.8" font-size="21.4" text-anchor="end" font-family='"Liberation Sans", sans-serif' font-weight="normal" >3000</text>
<line x1="367.7" y1="1459" x2="379.7" y2="1459" stroke="#000" stroke-width="3" stroke-linecap="butt"/>
<text x="365" y="1467.2" font-size="21.4" text-anchor="end" font-family='"Liberation Sans", sans-serif' font-weight="normal" >2000</text>
<line x1="367.7" y1="1605.3" x2="379.7" y2="1605.3" stroke="#000" stroke-width="3" stroke-linecap="butt"/>
<text x="365" y="1613.5" font-size="21.4" text-anchor="end" font-family='"Liberation Sans", sans-serif' font-weight="normal" >1000</text>
<line x1="367.7" y1="1750.8" x2="379.7" y2="1750.8" stroke="#000" stroke-width="3" stroke-linecap="butt"/>
<text x="365" y="1759" font-size="21.4" text-anchor="end" font-family='"Liberation Sans", sans-serif' font-weight="normal" >0</text>
<line x1="379.7" y1="1750.8" x2="379.7" y2="1762.8" stroke="#000" stroke-width="3" stroke-linecap="butt"/>
<text x="379.7" y="1785.6" font-size="21.4" text-anchor="middle" font-family='"Liberation Sans", sans-serif' font-weight="normal" >0</text>
<line x1="577.3" y1="1750.8" x2="577.3" y2="1762.8" stroke="#000" stroke-width="3" stroke-linecap="butt"/>
<text x="577.3" y="1785.6" font-size="21.4" text-anchor="middle" font-family='"Liberation Sans", sans-serif' font-weight="normal" >10</text>
<line x1="774.9" y1="1750.8" x2="774.9" y2="1762.8" stroke="#000" stroke-width="3" stroke-linecap="butt"/>
<text x="774.9" y="1785.6" font-size="21.4" text-anchor="middle" font-family='"Liberation Sans", sans-serif' font-weight="normal" >20</text>
<line x1="972.5" y1="1750.8" x2="972.5" y2="1762.8" stroke="#000" stroke-width="3" stroke-linecap="butt"/>
<text x="972.5" y="1785.6" font-size="21.4" text-anchor="middle" font-family='"Liberation Sans", sans-serif' font-weight="normal" >30</text>
<text x="675.3" y="1823" font-size="26.1" text-anchor="middle" font-family='"Liberation Sans", sans-serif' font-weight="normal" >day after injection</text>
<text transform="translate(305 1494.8) scale(1.06 1) rotate(-90)" text-anchor="middle" font-size="26.9" font-family='"Liberation Sans", sans-serif'>Tumore Volume (mm<tspan font-size="19.5" dy="-10.5">3</tspan><tspan dy="10.5">)</tspan></text>
<line x1="395.2" y1="1267.1" x2="424.5" y2="1267.1" stroke="#000" stroke-width="1.4" stroke-linecap="butt"/>
<circle cx="410" cy="1267.1" r="5.6" fill="#fff" stroke="#000" stroke-width="3.2"/>
<line x1="395.2" y1="1309.5" x2="424.5" y2="1309.5" stroke="#000" stroke-width="1.4" stroke-linecap="butt"/>
<rect x="404.25" y="1303.75" width="11.5" height="11.5" fill="#000"/>
<line x1="395.2" y1="1350.8" x2="424.5" y2="1350.8" stroke="#000" stroke-width="1.4" stroke-linecap="butt"/>
<circle cx="410" cy="1350.8" r="5.9" fill="#000"/>
<text x="442.4" y="1276.4" font-size="26" text-anchor="start" font-family='"Liberation Sans", sans-serif' font-weight="normal" >Untreated</text>
<text x="442.4" y="1318.8" font-size="26.6" text-anchor="start" font-family='"Liberation Sans", sans-serif' font-weight="normal" >C20-ID</text>
<text x="442.4" y="1360.8" font-size="26.6" text-anchor="start" font-family='"Liberation Sans", sans-serif' font-weight="normal" >C20-IM</text>
<line x1="755.14" y1="1738.2" x2="755.14" y2="1731.3" stroke="#000" stroke-width="1.4" stroke-linecap="butt"/>
<line x1="749.14" y1="1731.3" x2="761.14" y2="1731.3" stroke="#000" stroke-width="1.4" stroke-linecap="butt"/>
<line x1="794.66" y1="1739.9" x2="794.66" y2="1734.1" stroke="#000" stroke-width="1.4" stroke-linecap="butt"/>
<line x1="788.66" y1="1734.1" x2="800.66" y2="1734.1" stroke="#000" stroke-width="1.4" stroke-linecap="butt"/>
<line x1="913.22" y1="1722.4" x2="913.22" y2="1704.5" stroke="#000" stroke-width="1.4" stroke-linecap="butt"/>
<line x1="907.22" y1="1704.5" x2="919.22" y2="1704.5" stroke="#000" stroke-width="1.4" stroke-linecap="butt"/>
<polyline points="379.7,1751.3 498.26,1744.1 557.54,1746.1 616.82,1748.6 695.86,1743.4 755.14,1738.2 794.66,1739.9 913.22,1722.4" fill="none" stroke="#000" stroke-width="1.5"/>
<circle cx="379.7" cy="1751.3" r="5.8" fill="#000"/>
<circle cx="498.26" cy="1744.1" r="5.8" fill="#000"/>
<circle cx="557.54" cy="1746.1" r="5.8" fill="#000"/>
<circle cx="616.82" cy="1748.6" r="5.8" fill="#000"/>
<circle cx="695.86" cy="1743.4" r="5.8" fill="#000"/>
<circle cx="755.14" cy="1738.2" r="5.8" fill="#000"/>
<circle cx="794.66" cy="1739.9" r="5.8" fill="#000"/>
<circle cx="913.22" cy="1722.4" r="5.8" fill="#000"/>
<line x1="616.82" y1="1734.8" x2="616.82" y2="1726.9" stroke="#000" stroke-width="1.4" stroke-linecap="butt"/>
<line x1="610.82" y1="1726.9" x2="622.82" y2="1726.9" stroke="#000" stroke-width="1.4" stroke-linecap="butt"/>
<line x1="695.86" y1="1703.8" x2="695.86" y2="1685.5" stroke="#000" stroke-width="1.4" stroke-linecap="butt"/>
<line x1="689.86" y1="1685.5" x2="701.86" y2="1685.5" stroke="#000" stroke-width="1.4" stroke-linecap="butt"/>
<line x1="755.14" y1="1683.1" x2="755.14" y2="1655.2" stroke="#000" stroke-width="1.4" stroke-linecap="butt"/>
<line x1="749.14" y1="1655.2" x2="761.14" y2="1655.2" stroke="#000" stroke-width="1.4" stroke-linecap="butt"/>
<line x1="794.66" y1="1648.7" x2="794.66" y2="1604.6" stroke="#000" stroke-width="1.4" stroke-linecap="butt"/>
<line x1="788.66" y1="1604.6" x2="800.66" y2="1604.6" stroke="#000" stroke-width="1.4" stroke-linecap="butt"/>
<line x1="913.22" y1="1587.7" x2="913.22" y2="1521.3" stroke="#000" stroke-width="1.4" stroke-linecap="butt"/>
<line x1="907.22" y1="1521.3" x2="919.22" y2="1521.3" stroke="#000" stroke-width="1.4" stroke-linecap="butt"/>
<polyline points="379.7,1751.3 498.26,1740 557.54,1728.6 616.82,1734.8 695.86,1703.8 755.14,1683.1 794.66,1648.7 913.22,1587.7" fill="none" stroke="#000" stroke-width="1.5"/>
<rect x="373.95" y="1745.55" width="11.5" height="11.5" fill="#000"/>
<rect x="492.51" y="1734.25" width="11.5" height="11.5" fill="#000"/>
<rect x="551.79" y="1722.85" width="11.5" height="11.5" fill="#000"/>
<rect x="611.07" y="1729.05" width="11.5" height="11.5" fill="#000"/>
<rect x="690.11" y="1698.05" width="11.5" height="11.5" fill="#000"/>
<rect x="749.39" y="1677.35" width="11.5" height="11.5" fill="#000"/>
<rect x="788.91" y="1642.95" width="11.5" height="11.5" fill="#000"/>
<rect x="907.47" y="1581.95" width="11.5" height="11.5" fill="#000"/>
<line x1="616.82" y1="1717.9" x2="616.82" y2="1709.6" stroke="#000" stroke-width="1.4" stroke-linecap="butt"/>
<line x1="610.82" y1="1709.6" x2="622.82" y2="1709.6" stroke="#000" stroke-width="1.4" stroke-linecap="butt"/>
<line x1="695.86" y1="1672.8" x2="695.86" y2="1643.5" stroke="#000" stroke-width="1.4" stroke-linecap="butt"/>
<line x1="689.86" y1="1643.5" x2="701.86" y2="1643.5" stroke="#000" stroke-width="1.4" stroke-linecap="butt"/>
<line x1="755.14" y1="1617.4" x2="755.14" y2="1571.9" stroke="#000" stroke-width="1.4" stroke-linecap="butt"/>
<line x1="749.14" y1="1571.9" x2="761.14" y2="1571.9" stroke="#000" stroke-width="1.4" stroke-linecap="butt"/>
<line x1="794.66" y1="1578.1" x2="794.66" y2="1516.8" stroke="#000" stroke-width="1.4" stroke-linecap="butt"/>
<line x1="788.66" y1="1516.8" x2="800.66" y2="1516.8" stroke="#000" stroke-width="1.4" stroke-linecap="butt"/>
<line x1="913.22" y1="1410.7" x2="913.22" y2="1297.5" stroke="#000" stroke-width="1.4" stroke-linecap="butt"/>
<line x1="907.22" y1="1297.5" x2="919.22" y2="1297.5" stroke="#000" stroke-width="1.4" stroke-linecap="butt"/>
<polyline points="379.7,1751.3 498.26,1739.6 557.54,1722.4 616.82,1717.9 695.86,1672.8 755.14,1617.4 794.66,1578.1 913.22,1410.7" fill="none" stroke="#000" stroke-width="1.5"/>
<circle cx="379.7" cy="1751.3" r="5.6" fill="#fff" stroke="#000" stroke-width="3.1"/>
<circle cx="498.26" cy="1739.6" r="5.6" fill="#fff" stroke="#000" stroke-width="3.1"/>
<circle cx="557.54" cy="1722.4" r="5.6" fill="#fff" stroke="#000" stroke-width="3.1"/>
<circle cx="616.82" cy="1717.9" r="5.6" fill="#fff" stroke="#000" stroke-width="3.1"/>
<circle cx="695.86" cy="1672.8" r="5.6" fill="#fff" stroke="#000" stroke-width="3.1"/>
<circle cx="755.14" cy="1617.4" r="5.6" fill="#fff" stroke="#000" stroke-width="3.1"/>
<circle cx="794.66" cy="1578.1" r="5.6" fill="#fff" stroke="#000" stroke-width="3.1"/>
<circle cx="913.22" cy="1410.7" r="5.6" fill="#fff" stroke="#000" stroke-width="3.1"/>
<path d="M943.3 1407.3H957V1722.4H943.3" fill="none" stroke="#000" stroke-width="1.3"/>
<text x="975.3" y="1573.52" font-size="27" text-anchor="middle" font-family='"Liberation Sans", sans-serif' font-weight="bold" >*</text>
</g>
</svg>
</body></html>
